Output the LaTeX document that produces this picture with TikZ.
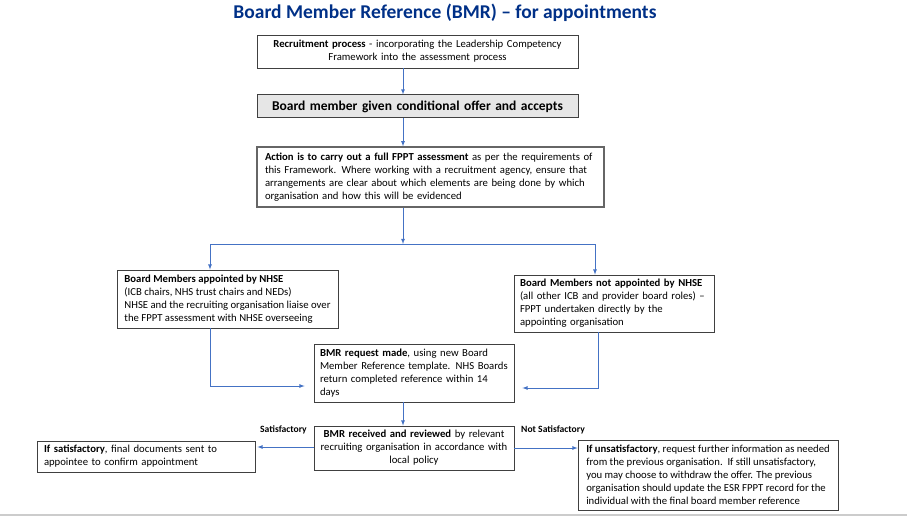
\documentclass[tikz,border=0pt]{standalone}
\usepackage{fontspec}
\setmainfont{Carlito}
\usepackage{xcolor}
\usetikzlibrary{calc, positioning}

\definecolor{titleblue}{RGB}{0,48,135}
\definecolor{arrowblue}{RGB}{68,114,196}
\definecolor{boxline}{RGB}{64,64,64}
\definecolor{offerfill}{RGB}{230,230,230}

\tikzset{
    box/.style={draw=boxline, line width=0.8pt, fill=white, inner xsep=6pt, inner ysep=0pt,
        font=\fontsize{10.7}{13}\selectfont},
    flow/.style={->, draw=arrowblue, line width=0.8pt},
    lbl/.style={font=\fontsize{9.6}{10}\selectfont\bfseries}
}

\begin{document}
\begin{tikzpicture}[>=latex, x=1pt, y=-1pt]
    \useasboundingbox (0,0) rectangle (907,516);

    % Tiêu đề
    \node[font=\fontsize{19.5}{21}\selectfont\bfseries, text=titleblue] (title) at (445,13)
        {Board Member Reference (BMR) -- for appointments};

    % Các ô của lưu đồ
    \node[box, text width=309pt, minimum height=33pt, align=center] (recruit) at (417.5,51.5)
        {\textbf{Recruitment process} - incorporating the Leadership Competency\\
         Framework into the assessment process};
    \node[box, fill=offerfill, line width=1pt, text width=309pt, minimum height=23pt, align=center,
        font=\fontsize{13.5}{15}\selectfont\bfseries] (offer) at (417.5,106.5)
        {Board member given conditional offer and accepts};
    \node[box, draw=black!60, line width=1.3pt, inner xsep=8pt, text width=331pt, minimum height=60pt, align=left] (action) at (430.5,177)
        {\textbf{Action is to carry out a full FPPT assessment} as per the requirements of\\
         this Framework. Where working with a recruitment agency, ensure that\\
         arrangements are clear about which elements are being done by which\\
         organisation and how this will be evidenced};
    \node[box, inner xsep=0pt, minimum width=221pt, minimum height=58pt, align=left] (nhse) at (227.5,299)
        {\textbf{Board Members appointed by NHSE}\\
         (ICB chairs, NHS trust chairs and NEDs)\\
         NHSE and the recruiting organisation liaise over\\
         the FPPT assessment with NHSE overseeing};
    \node[box, text width=188pt, minimum height=57pt, align=left] (notnhse) at (614,303.5)
        {\textbf{Board Members not appointed by NHSE}\\
         (all other ICB and provider board roles) --\\
         FPPT undertaken directly by the\\
         appointing organisation};
    \node[box, text width=188pt, minimum height=58pt, align=left] (request) at (414,373)
        {\textbf{BMR request made}, using new Board\\
         Member Reference template. NHS Boards\\
         return completed reference within 14\\
         days};
    \node[box, text width=188pt, minimum height=44pt, align=center] (received) at (414,448)
        {\textbf{BMR received and reviewed} by relevant\\
         recruiting organisation in accordance with\\
         local policy};
    \node[box, inner xsep=7pt, text width=204pt, minimum height=31pt, align=left] (sat) at (146,456.5)
        {\textbf{If satisfactory}, final documents sent to\\
         appointee to confirm appointment};
    \node[box, inner xsep=0pt, minimum width=260pt, minimum height=70pt, align=left] (unsat) at (708,475)
        {\textbf{If unsatisfactory}, request further information as needed\\
         from the previous organisation.\ \ If still unsatisfactory,\\
         you may choose to withdraw the offer. The previous\\
         organisation should update the ESR FPPT record for the\\
         individual with the final board member reference};

    % Trục dọc của các mũi tên
    \coordinate (spine) at (403,0);
    \coordinate (split) at (403,244);

    \draw[flow] (recruit.south -| spine) -- (offer.north -| spine);
    \draw[flow] (offer.south -| spine) -- (action.north -| spine);
    \draw[flow] (action.south -| spine) -- (split);
    \draw[flow] (split) -| ([xshift=-17.5pt]nhse.north);
    \draw[flow] (split) -| ([xshift=-19pt]notnhse.north);

    \draw[flow, shorten >=9pt] ([xshift=-17.5pt]nhse.south) |- ([yshift=-13pt]request.west);
    \draw[flow, shorten >=8pt] ([xshift=-16pt]notnhse.south) |- ([yshift=-15pt]request.east);
    \draw[flow] (request.south -| spine) -- (received.north -| spine);

    % Nhánh đạt / không đạt
    \draw[flow, shorten >=2pt] ([yshift=1pt]received.west) -- ([yshift=1pt]received.west -| sat.east)
        node[lbl, midway, above=9pt, xshift=-1pt] {Satisfactory};
    \draw[flow] (received.east) -- (received.east -| unsat.west)
        node[lbl, midway, above=10pt, xshift=7pt] {Not Satisfactory};

    % Đường viền dưới
    \draw[black!20, line width=1.5pt] (0,515) -- (907,515);
\end{tikzpicture}
\end{document}
